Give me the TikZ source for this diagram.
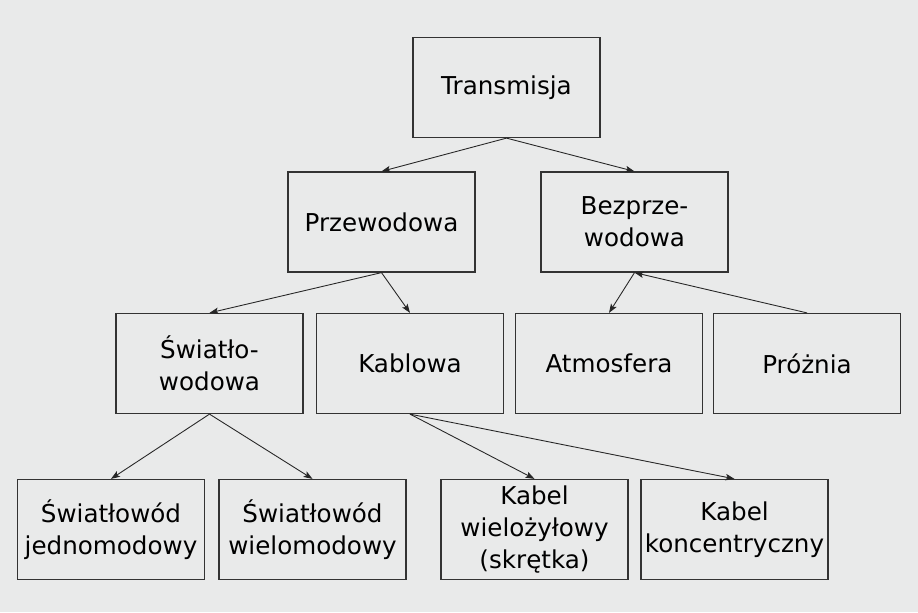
\documentclass[tikz,border=0pt]{standalone}
\usepackage{fontspec}
\setmainfont{DejaVu Sans}
\usepackage{xcolor}
\usetikzlibrary{arrows.meta,positioning}
\definecolor{tlo}{HTML}{E9EAEA}
\definecolor{ramka}{HTML}{333333}
\tikzset{
  blok/.style={draw=ramka, line width=0.7pt, minimum width=3.74cm,
    minimum height=2cm, inner sep=1pt, align=center,
    font=\fontsize{14}{18}\selectfont},
  strz/.style={-{Stealth[length=1.8mm,width=1.3mm,inset=0.4mm]},
    line width=0.5pt, draw=black!85}
}
\begin{document}
\begin{tikzpicture}
      \useasboundingbox[fill=tlo] (0,0) rectangle (18.36,-12.24);
      \begin{scope}
        \node[blok] (tr) at (10.13,-1.75) {Transmisja};
        \node[blok] (prz) at (7.63,-4.44) {Przewodowa};
        \node[blok] (bez) at (12.69,-4.44) {Bezprze-\\wodowa};
        \node[blok] (swi) at (4.19,-7.27) {Światło-\\wodowa};
        \node[blok] (kab) at (8.20,-7.27) {Kablowa};
        \node[blok] (atm) at (12.18,-7.27) {Atmosfera};
        \node[blok] (pro) at (16.14,-7.27) {Próżnia};
        \node[blok] (jed) at (2.22,-10.59) {Światłowód\\jednomodowy};
        \node[blok] (wie) at (6.25,-10.59) {Światłowód\\wielomodowy};
        \node[blok] (skr) at (10.69,-10.59) {Kabel\\wielożyłowy\\(skrętka)};
        \node[blok] (kon) at (14.69,-10.59) {Kabel\\koncentryczny};
        %\node at (10.13,-12) {sieci.infopl.info};
        \draw[strz] (tr.south) -- (prz.north);
        \draw[strz] (tr.south) -- (bez.north);
        \draw[strz] (prz.south) -- (swi.north);
        \draw[strz] (prz.south) -- (kab.north);
        \draw[strz] (bez.south) -- (atm.north);
        \draw[strz] (pro.north) -- (bez.south);
        \draw[strz] (swi.south) -- (jed.north);
        \draw[strz] (swi.south) -- (wie.north);
        \draw[strz] (kab.south) -- (skr.north);
        \draw[strz] (kab.south) -- (kon.north);
      \end{scope}
    \end{tikzpicture}
\end{document}
